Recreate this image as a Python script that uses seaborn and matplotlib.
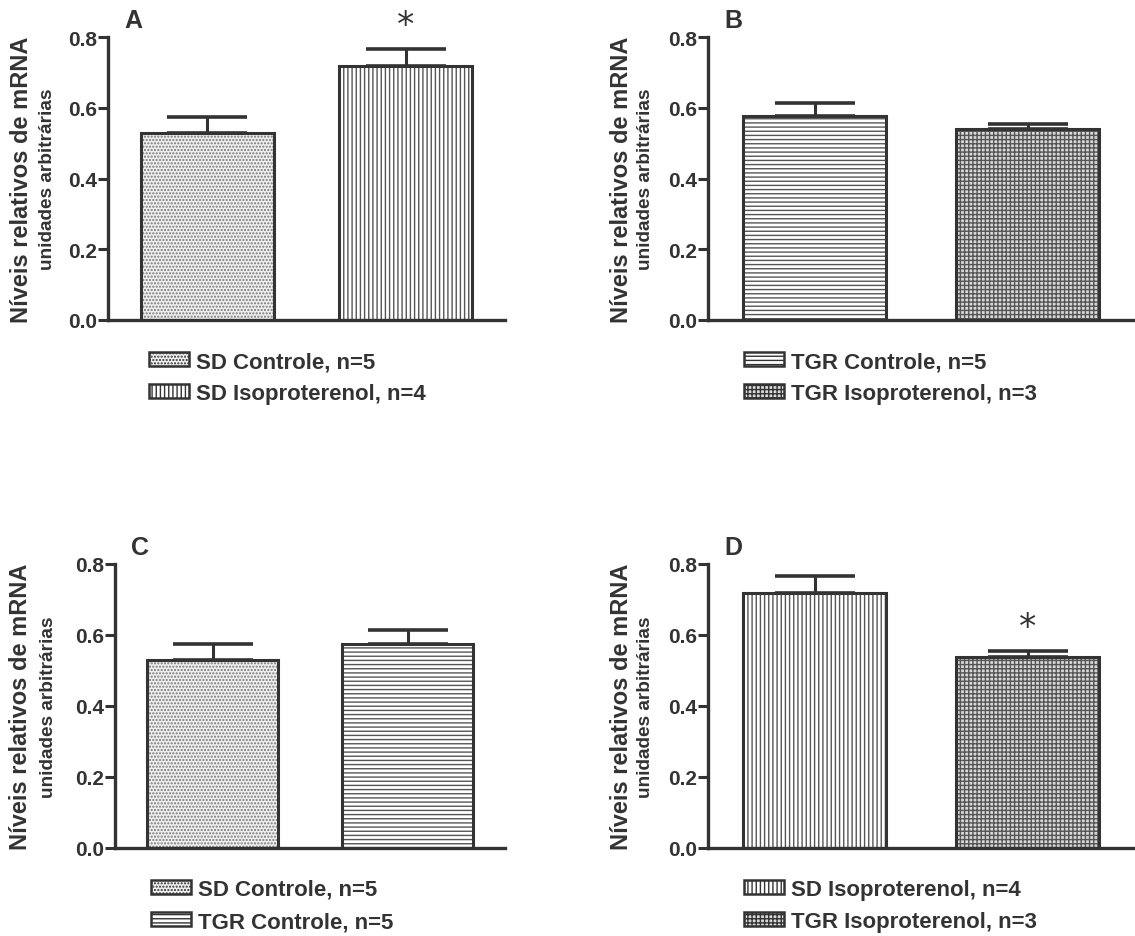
import matplotlib
matplotlib.use("Agg")
import matplotlib.pyplot as plt
from matplotlib.patches import Rectangle, Patch
import seaborn as sns
import pandas as pd

# Group summaries (mean ± SEM of relative mRNA levels)
groups = ["SD Controle", "SD Isoproterenol", "TGR Controle", "TGR Isoproterenol"]
n_per_group = [5, 4, 5, 3]
means = [0.530, 0.717, 0.576, 0.539]
sems = [0.044, 0.050, 0.038, 0.015]

# Panel contents: letter, pair of groups, index (within pair) flagged as significant
panel_letters = ["A", "B", "C", "D"]
panel_groups = [(0, 1), (2, 3), (0, 2), (1, 3)]
panel_star = [1, None, None, 1]

y_ticks = [0.0, 0.2, 0.4, 0.6, 0.8]

INK = "#333333"
hatches = {
    "SD Controle": ".....",
    "SD Isoproterenol": "||||",
    "TGR Controle": "----",
    "TGR Isoproterenol": "++++",
}
fills = {
    "SD Controle": "#eeeeee",
    "SD Isoproterenol": "white",
    "TGR Controle": "white",
    "TGR Isoproterenol": "#d8d8d8",
}
hatch_ink = {
    "SD Controle": "#777777",
    "SD Isoproterenol": "#555555",
    "TGR Controle": "#555555",
    "TGR Isoproterenol": "#555555",
}

sns.set_style("white")
plt.rcParams["font.family"] = ["Liberation Sans", "DejaVu Sans"]
plt.rcParams["font.weight"] = "bold"
plt.rcParams["hatch.linewidth"] = 1.0
plt.rcParams["text.color"] = INK

W, H = 1135, 937
fig = plt.figure(figsize=(W / 100, H / 100), dpi=100)


def fx(px):
    return px / W


def fy(py):
    return 1 - py / H


# axes boxes in pixels: left, right, top, bottom; label column x positions
boxes = [
    (108, 505, 38, 321),
    (708, 1134, 38, 321),
    (115, 505, 565, 849),
    (708, 1134, 565, 849),
]
label_cols = [(22, 48), (621, 646), (21, 49), (621, 646)]
legend_tops = [352, 352, 880, 880]
legend_lefts = [149, 744, 151, 744]

for k, (letter, pair, star, (l, r, t, b)) in enumerate(
        zip(panel_letters, panel_groups, panel_star, boxes)):
    ax = fig.add_axes([fx(l), fy(b), fx(r - l), (b - t) / H])
    names = [groups[i] for i in pair]
    df = pd.DataFrame({
        "grupo": names,
        "valor": [means[i] for i in pair],
    })
    sns.barplot(data=df, x="grupo", y="valor", order=names, errorbar=None,
                width=0.67, color="white", ax=ax)
    for patch, name in zip(ax.patches, names):
        patch.set_facecolor(fills[name])
        patch.set_hatch(hatches[name])
        patch.set_edgecolor(hatch_ink[name])
        patch.set_linewidth(0)
        ax.add_patch(Rectangle(patch.get_xy(), patch.get_width(), patch.get_height(),
                               fill=False, edgecolor=INK, linewidth=2.2, zorder=3))
    ax.errorbar([0, 1], [means[i] for i in pair],
                yerr=[[0, 0], [sems[i] for i in pair]],
                fmt="none", ecolor=INK, elinewidth=2.2, capsize=29, capthick=2.6,
                zorder=4)
    if star is not None:
        gi = pair[star]
        ax.text(star, means[gi] + sems[gi] + 0.068, "*", ha="center", va="center",
                fontsize=25, fontweight="normal", color=INK, clip_on=False,
                family="DejaVu Sans")
    ax.set_xlim(-0.5, 1.5)
    ax.set_ylim(0, 0.8)
    ax.set_yticks(y_ticks)
    ax.set_yticklabels([f"{v:.1f}" for v in y_ticks], fontsize=15,
                       fontweight="bold", color=INK)
    ax.set_xticks([])
    ax.set_xlabel("")
    ax.set_ylabel("")
    for side in ("top", "right"):
        ax.spines[side].set_visible(False)
    for side in ("left", "bottom"):
        ax.spines[side].set_color(INK)
        ax.spines[side].set_linewidth(2.4)
    ax.tick_params(axis="y", length=7, width=2.2, color=INK, pad=1, left=True)

    # y-axis title in two lines of different size
    mid = fy((t + b) / 2)
    fig.text(fx(label_cols[k][0]), mid, "Níveis relativos de mRNA", rotation=90,
             ha="center", va="center", fontsize=17, fontweight="bold", color=INK)
    fig.text(fx(label_cols[k][1]), mid, "unidades arbitrárias", rotation=90,
             ha="center", va="center", fontsize=13.7, fontweight="bold", color=INK)

    fig.text(fx(l + 25), fy(t - 10), letter, fontsize=18, fontweight="bold",
             color=INK, ha="center", va="baseline")

    handles = [Patch(facecolor=fills[nm], edgecolor=INK, hatch=hatches[nm], linewidth=1.8)
               for nm in names]
    labels = [f"{nm}, n={n_per_group[i]}" for nm, i in zip(names, pair)]
    fig.legend(handles, labels, loc="upper left",
               bbox_to_anchor=(fx(legend_lefts[k]), fy(legend_tops[k])),
               frameon=False, handlelength=1.8, handleheight=0.6,
               handletextpad=0.3, labelspacing=0.5, borderaxespad=0, borderpad=0,
               prop={"weight": "bold", "size": 16})

fig.savefig("out.png", dpi=100)
